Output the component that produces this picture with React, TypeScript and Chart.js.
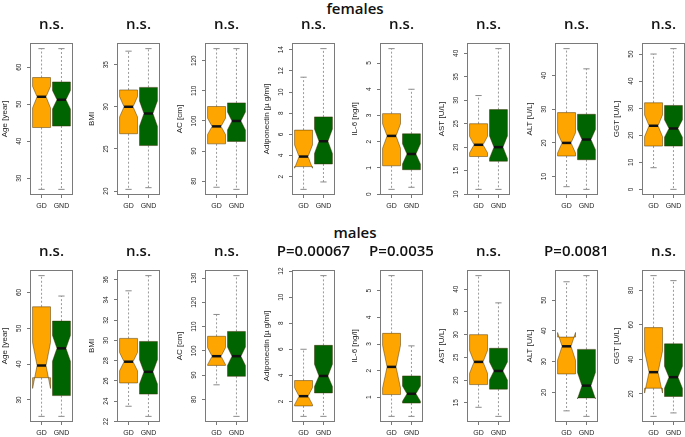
import React, { useEffect, useRef } from "react";
import { Chart, registerables } from "chart.js";
Chart.register(...registerables);

const groups = ["GD", "GND"];
const groupColors = ["#FFA500", "#006400"];
const variables = [
  "Age [year]",
  "BMI",
  "AC [cm]",
  "Adiponectin [\u00b5 g/ml]",
  "IL-6 [ng/l]",
  "AST [U/L]",
  "ALT [U/L]",
  "GGT [U/L]",
];

const femaleLabels = ["n.s.", "n.s.", "n.s.", "n.s.", "n.s.", "n.s.", "n.s.", "n.s."];
const maleLabels = ["n.s.", "n.s.", "n.s.", "P=0.00067", "P=0.0035", "n.s.", "P=0.0081", "n.s."];

const femaleTicks = [
  [30, 40, 50, 60],
  [20, 25, 30, 35],
  [80, 90, 100, 110, 120],
  [2, 4, 6, 8, 10, 12, 14],
  [0, 1, 2, 3, 4, 5],
  [10, 15, 20, 25, 30, 35, 40],
  [10, 20, 30, 40],
  [0, 10, 20, 30, 40, 50],
];
const maleTicks = [
  [30, 40, 50, 60],
  [22, 24, 26, 28, 30, 32, 34, 36],
  [80, 90, 100, 110, 120, 130],
  [2, 4, 6, 8, 10, 12],
  [1, 2, 3, 4, 5],
  [15, 20, 25, 30, 35, 40],
  [20, 30, 40, 50],
  [20, 40, 60, 80],
];

// each entry: [GD, GND]
const femaleWhiskerLow = [[27, 27], [20.2, 20.4], [78, 77.3], [0.8, 1.5], [0.18, 0.26], [11, 11], [7, 6.2], [8, 0]];
const femaleQ1 = [[43.7, 44.1], [26.8, 25.4], [92.4, 93.2], [2.95, 3.2], [1.08, 0.93], [18, 17], [16.1, 15], [16, 16]];
const femaleMedian = [[52, 51.2], [30, 29.2], [98.2, 100], [3.9, 5.35], [2.22, 1.53], [20.5, 20], [20, 21], [23.5, 22.5]];
const femaleQ3 = [[57.2, 56], [32, 32.3], [104.8, 106], [6.4, 7.65], [3.07, 2.3], [25, 28], [29, 28.5], [32, 31]];
const femaleWhiskerHigh = [[65, 65], [36.6, 36.9], [124, 124], [11.4, 14.1], [5.55, 4.0], [31, 41], [48, 42], [50, 52]];
const femaleNotchLow = [[49, 48.7], [28.8, 27.7], [95.5, 97], [2.8, 4.2], [1.75, 1.15], [18.8, 17.6], [17, 18], [19.5, 19.3]];
const femaleNotchHigh = [[54.8, 53.7], [31.2, 30.7], [100.9, 103], [5.0, 6.5], [2.68, 1.92], [22.3, 22.4], [23, 24], [27.5, 25.7]];

const maleWhiskerLow = [[25.4, 25.4], [23.5, 22.5], [86, 73], [0.85, 0.85], [0.28, 0.28], [14, 12], [14, 12.2], [7, 9]];
const maleQ1 = [[36.2, 31.2], [25.8, 24.7], [94, 89.5], [1.65, 2.65], [1.1, 0.78], [19, 18], [26, 18.2], [23.3, 18.5]];
const maleMedian = [[39.6, 44.4], [27.9, 26.9], [97.8, 97.8], [2.4, 3.95], [2.14, 1.13], [24, 22], [35, 22.2], [32.6, 29.7]];
const maleQ3 = [[56, 52], [30.2, 29.9], [106, 108], [3.6, 6.3], [3.4, 1.8], [30, 27], [38, 34], [58.4, 49]];
const maleWhiskerHigh = [[64.7, 59], [34.9, 36.4], [115, 131], [6.0, 11.65], [5.57, 2.93], [43, 37], [56, 58], [88.5, 85.6]];
const maleNotchLow = [[33.2, 40.8], [27, 25.7], [94.3, 94], [1.75, 3.15], [1.35, 0.85], [21.5, 20], [30.5, 17.9], [20.5, 23.3]];
const maleNotchHigh = [[46, 48], [28.8, 28.1], [101.3, 101.6], [3.05, 4.85], [2.95, 1.42], [26.5, 24], [39.5, 26.5], [44.7, 36]];

const rows = [
  {
    header: "females",
    labels: femaleLabels,
    ticks: femaleTicks,
    wl: femaleWhiskerLow,
    q1: femaleQ1,
    med: femaleMedian,
    q3: femaleQ3,
    wh: femaleWhiskerHigh,
    nl: femaleNotchLow,
    nh: femaleNotchHigh,
    top: 10,
    headerTop: 0,
  },
  {
    header: "males",
    labels: maleLabels,
    ticks: maleTicks,
    wl: maleWhiskerLow,
    q1: maleQ1,
    med: maleMedian,
    q3: maleQ3,
    wh: maleWhiskerHigh,
    nl: maleNotchLow,
    nh: maleNotchHigh,
    top: 237,
    headerTop: 224,
  },
];

const CANVAS_W = 103;
const CANVAS_H = 205;
const AXIS_W = 30;
const PANEL_STEP = 87.43;
const FIRST_FRAME_LEFT = 30;
const SMALL_FONT = "Liberation Sans, Arial, sans-serif";
const TITLE_FONT = "Open Sans, sans-serif";
const TITLE_WEIGHT = "600";

function makeBoxPlugin(row: any, p: number) {
  return {
    id: "notchBox",
    afterDatasetsDraw(chart: any) {
      const { ctx, chartArea: a, scales } = chart;
      const x = scales.x;
      const y = scales.y;
      const yv = (v: number) => y.getPixelForValue(v);
      const seg = (x1: number, y1: number, x2: number, y2: number) => {
        ctx.beginPath();
        ctx.moveTo(x1, y1);
        ctx.lineTo(x2, y2);
        ctx.stroke();
      };
      ctx.save();
      for (let j = 0; j < 2; j++) {
        const cx = x.getPixelForValue(j + 1);
        const w = x.getPixelForValue(j + 1.45) - cx;
        const nw = w * 0.5;
        const sw = w * 0.35;
        const wl = row.wl[p][j], q1 = row.q1[p][j], med = row.med[p][j];
        const q3 = row.q3[p][j], wh = row.wh[p][j], nl = row.nl[p][j], nh = row.nh[p][j];
        // whiskers
        ctx.lineWidth = 1;
        ctx.strokeStyle = "#9a9a9a";
        ctx.setLineDash([2, 2]);
        seg(cx, yv(q3), cx, yv(wh));
        seg(cx, yv(q1), cx, yv(wl));
        ctx.setLineDash([]);
        ctx.strokeStyle = "#8a8a8a";
        seg(cx - sw, yv(wh), cx + sw, yv(wh));
        seg(cx - sw, yv(wl), cx + sw, yv(wl));
        // notched box
        ctx.beginPath();
        ctx.moveTo(cx - w, yv(q1));
        ctx.lineTo(cx - w, yv(nl));
        ctx.lineTo(cx - nw, yv(med));
        ctx.lineTo(cx - w, yv(nh));
        ctx.lineTo(cx - w, yv(q3));
        ctx.lineTo(cx + w, yv(q3));
        ctx.lineTo(cx + w, yv(nh));
        ctx.lineTo(cx + nw, yv(med));
        ctx.lineTo(cx + w, yv(nl));
        ctx.lineTo(cx + w, yv(q1));
        ctx.closePath();
        ctx.fillStyle = groupColors[j];
        ctx.fill();
        ctx.strokeStyle = "rgba(60,40,0,0.45)";
        ctx.lineWidth = 1;
        ctx.stroke();
        // median
        ctx.strokeStyle = "#111";
        ctx.lineWidth = 2.5;
        seg(cx - nw, yv(med), cx + nw, yv(med));
      }
      // frame
      ctx.strokeStyle = "#7a7a7a";
      ctx.lineWidth = 1;
      ctx.strokeRect(
        Math.round(a.left) + 0.5,
        Math.round(a.top) + 0.5,
        Math.round(a.right - a.left) - 1,
        Math.round(a.bottom - a.top) - 1
      );
      // rotated y tick labels
      ctx.fillStyle = "#222";
      ctx.font = `6.5px ${SMALL_FONT}`;
      ctx.textAlign = "center";
      ctx.textBaseline = "middle";
      for (const t of y.ticks) {
        const py = y.getPixelForValue(t.value);
        ctx.save();
        ctx.translate(a.left - 11, py);
        ctx.rotate(-Math.PI / 2);
        ctx.fillText(String(t.value), 0, 0);
        ctx.restore();
      }
      // panel title, centred over the plot frame
      ctx.fillStyle = "#111";
      ctx.font = `${TITLE_WEIGHT} 15px ${TITLE_FONT}`;
      ctx.textAlign = "center";
      ctx.textBaseline = "middle";
      ctx.fillText(row.labels[p], (a.left + a.right) / 2, a.top - 18);
      ctx.restore();
    },
  };
}

function Panel({ row, p }: { row: any; p: number }) {
  const ref = useRef<HTMLCanvasElement>(null);
  const left = Math.round(FIRST_FRAME_LEFT + PANEL_STEP * p - AXIS_W);
  useEffect(() => {
    const lo = Math.min(...row.wl[p]);
    const hi = Math.max(...row.wh[p]);
    const pad = (hi - lo) * 0.04;
    const tickValues: number[] = row.ticks[p];
    const chart = new Chart(ref.current as HTMLCanvasElement, {
      type: "scatter",
      data: {
        datasets: [
          {
            data: groups.map((g, j) => ({ x: j + 1, y: row.med[p][j] })),
            pointRadius: 0,
            showLine: false,
          },
        ],
      },
      options: {
        animation: false,
        responsive: false,
        devicePixelRatio: 1,
        events: [],
        layout: { padding: { left: 0, right: 30, top: 33, bottom: 0 } },
        plugins: {
          legend: { display: false },
          tooltip: { enabled: false },
          title: { display: false },
        },
        scales: {
          x: {
            type: "linear",
            min: 0.42,
            max: 2.58,
            afterBuildTicks: (s: any) => {
              s.ticks = groups.map((g, j) => ({ value: j + 1 }));
            },
            afterFit: (s: any) => {
              s.height = 20;
            },
            ticks: {
              callback: (v: any) => groups[Number(v) - 1],
              color: "#222",
              font: { family: SMALL_FONT, size: 7 },
              padding: 4,
              maxRotation: 0,
              autoSkip: false,
            },
            grid: { display: true, drawOnChartArea: false, drawTicks: true, tickLength: 3, color: "#777" },
            border: { display: false },
          },
          y: {
            type: "linear",
            min: lo - pad,
            max: hi + pad,
            afterBuildTicks: (s: any) => {
              s.ticks = tickValues.map((v) => ({ value: v }));
            },
            afterFit: (s: any) => {
              s.width = AXIS_W;
            },
            ticks: { display: false },
            grid: { display: true, drawOnChartArea: false, drawTicks: true, tickLength: 3, color: "#777" },
            border: { display: false },
            title: {
              display: true,
              text: variables[p],
              color: "#222",
              font: { family: SMALL_FONT, size: 8 },
              padding: 0,
            },
          },
        },
      },
      plugins: [makeBoxPlugin(row, p)],
    } as any);
    return () => chart.destroy();
  }, []);
  return (
    <canvas
      ref={ref}
      width={CANVAS_W}
      height={CANVAS_H}
      style={{ position: "absolute", left, top: row.top, width: CANVAS_W, height: CANVAS_H }}
    />
  );
}

export default function App() {
  return (
    <div
      style={{
        position: "absolute",
        left: 0,
        top: 0,
        width: 685,
        height: 437,
        background: "#fff",
        overflow: "hidden",
      }}
    >
      {rows.map((row, r) => (
        <React.Fragment key={r}>
          <div
            style={{
              position: "absolute",
              left: 255,
              width: 200,
              top: row.headerTop,
              height: 16,
              lineHeight: "16px",
              textAlign: "center",
              fontFamily: TITLE_FONT,
              fontWeight: 600,
              fontSize: 15,
              color: "#111",
            }}
          >
            {row.header}
          </div>
          {variables.map((v, p) => (
            <Panel key={p} row={row} p={p} />
          ))}
        </React.Fragment>
      ))}
    </div>
  );
}
